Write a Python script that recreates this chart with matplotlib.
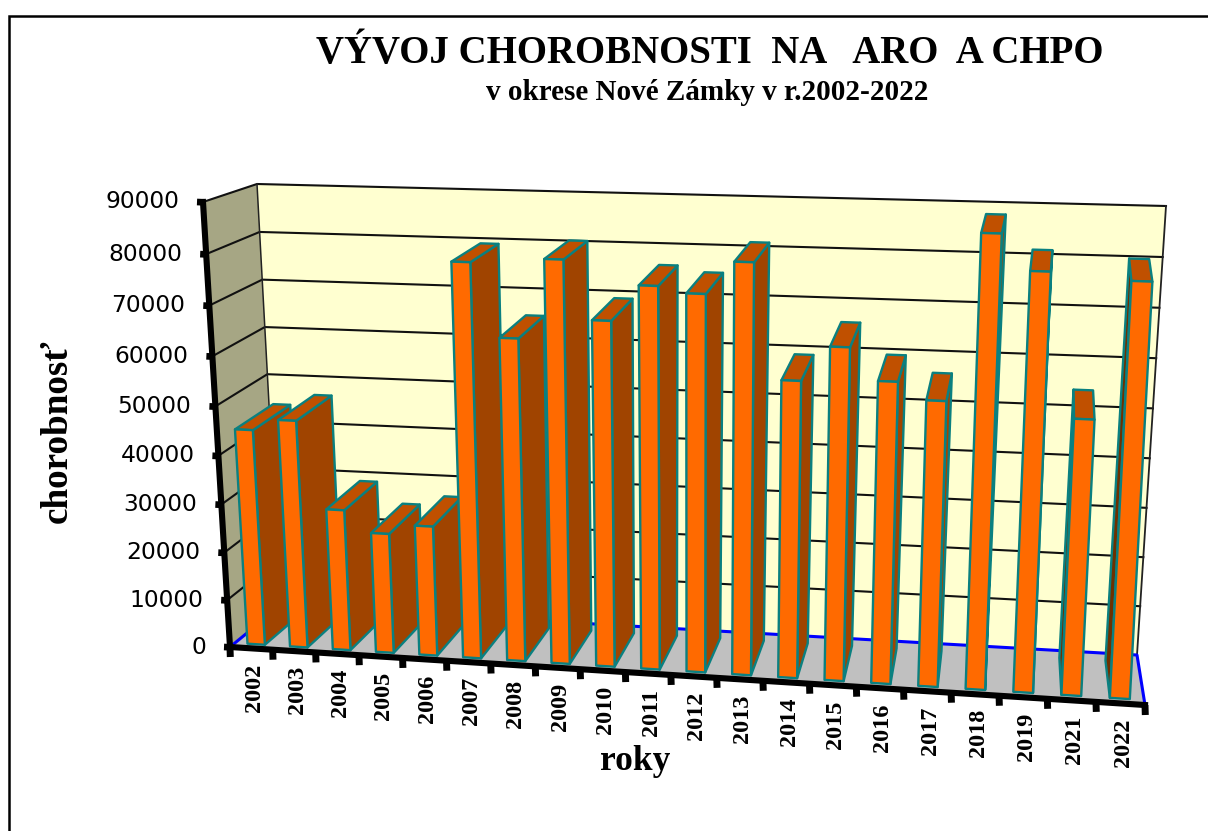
import numpy as np
import matplotlib
matplotlib.use("Agg")
import matplotlib.pyplot as plt
from matplotlib.patches import Polygon

years = ["2002","2003","2004","2005","2006","2007","2008","2009","2010","2011",
         "2012","2013","2014","2015","2016","2017","2018","2019","2021","2022"]
values = [44800,47100,29300,24900,26900,79700,65300,80800,69400,76400,
          75200,81500,59300,66100,59900,56600,88300,81600,54300,80400]
y_ticks = [0,10000,20000,30000,40000,50000,60000,70000,80000,90000]
y_max = 90000

# Perspective box: corners in pixels (front/back, left/right, bottom/top)
FLB, FRB, BLB, BRB = np.array([230.,647.]), np.array([1145.,705.]), np.array([280.,606.]), np.array([1137.,655.])
FLT, FRT, BLT, BRT = np.array([203.,202.]), np.array([1171.,232.]), np.array([257.,184.]), np.array([1166.,206.])

KX, KV_F, KV_B = 0.07, 0.058, 0.025
D0, D1, BAR_W = 0.10, 0.85, 0.41

def proj(u, d, v):
    """u: slot position 0..n, d: depth 0..1, v: value."""
    t = u / len(years)
    s = t * (1 - KX) / (1 - KX * t)
    k = KV_F + (KV_B - KV_F) * d
    f = v / y_max
    h = f * (1 - k) / (1 - k * f)
    bot = (1-d)*((1-s)*FLB + s*FRB) + d*((1-s)*BLB + s*BRB)
    top = (1-d)*((1-s)*FLT + s*FRT) + d*((1-s)*BLT + s*BRT)
    return bot + (top - bot) * h

fig = plt.figure(figsize=(12.08, 8.31), dpi=100)
ax = fig.add_axes([0, 0, 1, 1])
ax.set_xlim(0, 1208); ax.set_ylim(831, 0); ax.axis("off")

def face(pts, fc, ec="none", lw=0, z=1):
    ax.add_patch(Polygon(np.array(pts), closed=True, fc=fc, ec=ec, lw=lw, joinstyle="round", zorder=z))

n = len(years)
# frame
ax.plot([8.5, 8.5, 1208], [831, 15.5, 15.5], color="black", lw=1.8, zorder=0, solid_joinstyle="miter")
# walls and floor
face([proj(0,1,0), proj(n,1,0), proj(n,1,y_max), proj(0,1,y_max)], "#FFFFD0")
face([proj(0,0,0), proj(0,1,0), proj(0,1,y_max), proj(0,0,y_max)], "#A6A684")
face([proj(0,0,0), proj(n,0,0), proj(n,1,0), proj(0,1,0)], "#C0C0C0")
# gridlines
for t in y_ticks[1:]:
    a, b, c = proj(0,0,t), proj(0,1,t), proj(n,1,t)
    ax.plot([a[0],b[0],c[0]], [a[1],b[1],c[1]], color="#111111", lw=1.5, zorder=2)
a, b, c = proj(0,1,y_max), proj(0,1,0), proj(n,1,y_max)
d = proj(n,1,0)
ax.plot([a[0],b[0]], [a[1],b[1]], color="#222222", lw=1.1, zorder=2)
ax.plot([c[0],d[0]], [c[1],d[1]], color="#222222", lw=1.3, zorder=2)
# floor edges
p = [proj(0,0,0), proj(0,1,0), proj(n,1,0), proj(n,0,0)]
ax.plot(*np.array(p).T, color="#0000FF", lw=2.2, zorder=2)

# bars: painter order from the outside in
EC, LW = "#0A8080", 1.7
VP = 1010
order = sorted(range(n), key=lambda i: -abs(proj(i+.5,0,0)[0]-VP))
for z, i in enumerate(order):
    u0, u1 = i + .5 - BAR_W/2, i + .5 + BAR_W/2
    v = values[i]
    zz = 5 + z * 0.01
    f = lambda u, d, w: proj(u, d, w)
    right = [f(u1,D0,0), f(u1,D1,0), f(u1,D1,v), f(u1,D0,v)]
    left = [f(u0,D0,0), f(u0,D1,0), f(u0,D1,v), f(u0,D0,v)]
    top = [f(u0,D0,v), f(u1,D0,v), f(u1,D1,v), f(u0,D1,v)]
    front = [f(u0,D0,0), f(u1,D0,0), f(u1,D0,v), f(u0,D0,v)]
    if f(u1,D1,v)[0] > f(u1,D0,v)[0]:
        face(right, "#A04400", EC, LW, zz)
    if f(u0,D1,v)[0] < f(u0,D0,v)[0]:
        face(left, "#6E3000", EC, LW, zz)
    face(top, "#C05000", EC, LW, zz)
    face(front, "#FF6A00", EC, LW, zz)

# axes
a, b, c = proj(0,0,y_max), proj(0,0,0), proj(n,0,0)
ax.plot([a[0],b[0],c[0]], [a[1],b[1],c[1]], color="black", lw=4.4, zorder=20, solid_joinstyle="miter")
for t in y_ticks:
    q = proj(0,0,t)
    ax.plot([q[0]-6, q[0]+1], [q[1], q[1]+.3], color="black", lw=4.8, zorder=20, solid_capstyle="butt")
    ax.text(q[0]-24, q[1], f"{t}", ha="right", va="center", fontsize=16.8, family="DejaVu Sans",
            color="black", zorder=21)
for i in range(n+1):
    q = proj(i,0,0)
    ax.plot([q[0], q[0]+.3], [q[1], q[1]+10], color="black", lw=5, zorder=20, solid_capstyle="butt")
for i, y in enumerate(years):
    q = proj(i+.5,0,0)
    ax.text(q[0]+3, q[1]+15, y, rotation=90, ha="center", va="top", fontsize=17.5, family="Liberation Serif",
            fontweight="bold", zorder=21)

ax.text(710, 54, "VÝVOJ CHOROBNOSTI  NA   ARO  A CHPO", ha="center", va="center", fontsize=28,
        family="Liberation Serif", fontweight="bold")
ax.text(707, 93, "v okrese Nové Zámky v r.2002-2022", ha="center", va="center", fontsize=21,
        family="Liberation Serif", fontweight="bold")
ax.text(57, 431, "chorobnosť", rotation=90, ha="center", va="center", fontsize=26.7,
        family="Liberation Serif", fontweight="bold")
ax.text(635, 762, "roky", ha="center", va="center", fontsize=25.5,
        family="Liberation Serif", fontweight="bold")

fig.savefig("out.png", dpi=100)
